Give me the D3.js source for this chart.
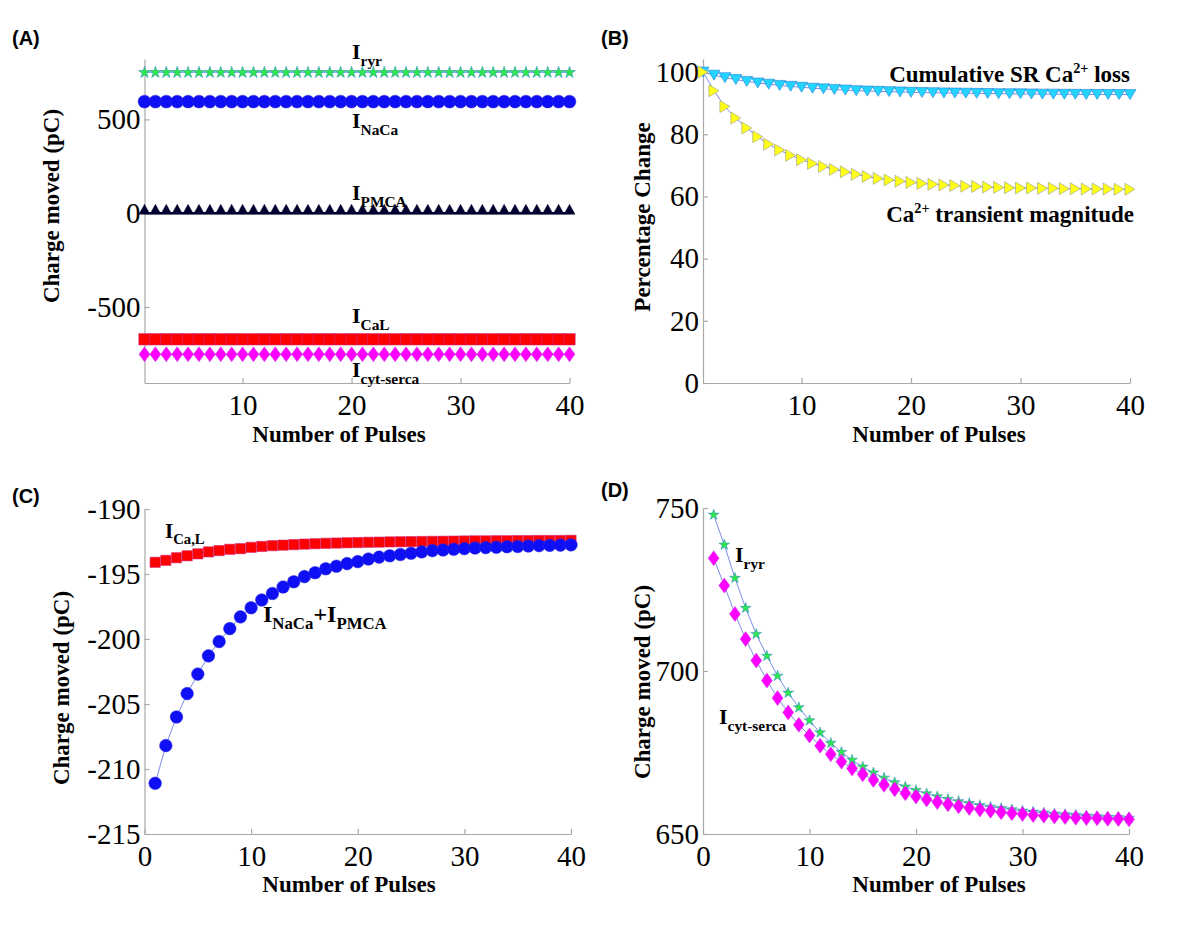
<!DOCTYPE html>
<html><head><meta charset="utf-8">
<script src="https://cdn.jsdelivr.net/npm/d3@7"></script>
<style>body{margin:0;background:#fff}svg{display:block}</style>
</head><body>
<svg id="chart" width="1200" height="927"></svg>
<script>
// ---------------- DATA ----------------
const pulses = [1,2,3,4,5,6,7,8,9,10,11,12,13,14,15,16,17,18,19,20,21,22,23,24,25,26,27,28,29,30,31,32,33,34,35,36,37,38,39,40];

// Panel A (charge moved per pulse, pC)
const A_ryr   = [750,750,750,750,750,750,750,750,750,750,750,750,750,750,750,750,750,750,750,750,750,750,750,750,750,750,750,750,750,750,750,750,750,750,750,750,750,750,750,750];
const A_naca  = [595,595,595,595,595,595,595,595,595,595,595,595,595,595,595,595,595,595,595,595,595,595,595,595,595,595,595,595,595,595,595,595,595,595,595,595,595,595,595,595];
const A_pmca  = [0,0,0,0,0,0,0,0,0,0,0,0,0,0,0,0,0,0,0,0,0,0,0,0,0,0,0,0,0,0,0,0,0,0,0,0,0,0,0,0];
const A_cal   = [-672,-672,-672,-672,-672,-672,-672,-672,-672,-672,-672,-672,-672,-672,-672,-672,-672,-672,-672,-672,-672,-672,-672,-672,-672,-672,-672,-672,-672,-672,-672,-672,-672,-672,-672,-672,-672,-672,-672,-672];
const A_serca = [-752,-752,-752,-752,-752,-752,-752,-752,-752,-752,-752,-752,-752,-752,-752,-752,-752,-752,-752,-752,-752,-752,-752,-752,-752,-752,-752,-752,-752,-752,-752,-752,-752,-752,-752,-752,-752,-752,-752,-752];

// Panel B (percentage change)
const B_srLoss    = [100,99.0,98.2,97.6,97.0,96.5,96.1,95.7,95.4,95.1,94.8,94.6,94.4,94.2,94.0,93.9,93.8,93.7,93.6,93.5,93.4,93.35,93.3,93.25,93.2,93.15,93.1,93.05,93.0,93.0,92.95,92.9,92.9,92.85,92.85,92.8,92.8,92.8,92.75,92.75];
const B_transient = [100,94.0,88.9,85.2,82.0,79.2,76.8,74.9,73.2,71.8,70.6,69.6,68.7,67.9,67.1,66.4,65.8,65.3,64.9,64.5,64.2,63.9,63.7,63.5,63.3,63.2,63.0,62.9,62.8,62.7,62.7,62.6,62.6,62.5,62.5,62.4,62.4,62.4,62.3,62.3];

// Panel C (pC)
const C_cal      = [-194.1,-193.95,-193.75,-193.6,-193.45,-193.3,-193.2,-193.1,-193.05,-192.95,-192.88,-192.82,-192.78,-192.74,-192.7,-192.67,-192.64,-192.62,-192.6,-192.58,-192.56,-192.55,-192.53,-192.52,-192.51,-192.5,-192.49,-192.48,-192.47,-192.46,-192.45,-192.45,-192.44,-192.44,-192.43,-192.43,-192.42,-192.42,-192.42,-192.41];
const C_nacaPmca = [-211.1,-208.2,-206.0,-204.2,-202.7,-201.3,-200.2,-199.2,-198.3,-197.6,-197.0,-196.5,-196.0,-195.6,-195.2,-194.9,-194.6,-194.4,-194.2,-194.05,-193.85,-193.7,-193.6,-193.5,-193.4,-193.3,-193.2,-193.15,-193.1,-193.05,-193.0,-192.97,-192.94,-192.9,-192.88,-192.85,-192.82,-192.8,-192.78,-192.76];

// Panel D (pC)
const D_ryr   = [747.9,738.7,728.5,719.3,711.3,704.6,698.5,693.3,688.8,684.8,681.1,677.9,675.1,672.7,670.6,668.8,667.2,665.8,664.5,663.4,662.4,661.5,660.7,660.0,659.4,658.8,658.3,657.9,657.5,657.1,656.8,656.5,656.2,656.0,655.8,655.6,655.4,655.2,655.1,654.9];
const D_serca = [734.6,726.2,717.5,709.8,703.2,697.1,691.7,687.3,683.5,680.2,677.1,674.5,672.2,670.1,668.3,666.6,665.1,663.7,662.5,661.5,660.6,659.8,659.1,658.5,658.0,657.5,657.1,656.7,656.4,656.1,655.8,655.6,655.4,655.2,655.0,654.9,654.8,654.7,654.6,654.5];

// Tick values
const xTicksAB = [10,20,30,40];
const xTicksCD = [0,10,20,30,40];
const yTicksA = [-500,0,500];
const yTicksB = [0,20,40,60,80,100];
const yTicksC = [-215,-210,-205,-200,-195,-190];
const yTicksD = [650,700,750];

// ---------------- DRAWING ----------------
const svg = d3.select('#chart');
const SERIF = "'Liberation Serif','Times New Roman',serif";
const SANS = "'Liberation Sans',Arial,sans-serif";
const AXIS_COLOR = '#a9a9a9';
const LINE_COLOR = '#5b6fe0';

function makePanel(cfg) {
  const g = svg.append('g');
  const x = d3.scaleLinear().domain(cfg.xDomain).range(cfg.xRange);
  const y = d3.scaleLinear().domain(cfg.yDomain).range(cfg.yRange);
  const fmt = d => String(d);
  const ax = g.append('g').attr('transform', `translate(0,${cfg.yRange[0]})`)
    .call(d3.axisBottom(x).tickValues(cfg.xTicks).tickSizeInner(-5).tickSizeOuter(0).tickPadding(11).tickFormat(fmt));
  const ay = g.append('g').attr('transform', `translate(${cfg.xRange[0]},0)`)
    .call(d3.axisLeft(y).tickValues(cfg.yTicks).tickSizeInner(-5).tickSizeOuter(0).tickPadding(4).tickFormat(fmt));
  [ax, ay].forEach(a => {
    a.attr('font-family', SERIF);
    a.select('.domain').attr('stroke', AXIS_COLOR).attr('stroke-width', 1.2);
    a.selectAll('.tick line').attr('stroke', AXIS_COLOR).attr('stroke-width', 1.2);
    a.selectAll('.tick text').attr('fill', '#000').attr('font-family', SERIF).attr('font-size', 29);
  });
  // axis titles
  g.append('text').attr('x', cfg.xLabelPos[0]).attr('y', cfg.xLabelPos[1])
    .attr('text-anchor', 'middle').attr('font-family', SERIF).attr('font-weight', 'bold')
    .attr('font-size', 23).text('Number of Pulses');
  g.append('text').attr('transform', `translate(${cfg.yLabelPos[0]},${cfg.yLabelPos[1]}) rotate(-90)`)
    .attr('text-anchor', 'middle').attr('dominant-baseline', 'central').attr('font-family', SERIF)
    .attr('font-weight', 'bold').attr('font-size', 23).text(cfg.yLabel);
  // panel letter
  g.append('text').attr('x', cfg.letterPos[0]).attr('y', cfg.letterPos[1])
    .attr('font-family', SANS).attr('font-weight', 'bold').attr('font-size', 20).text(cfg.letter);
  return {g, x, y};
}

const shapes = {
  circle: s => d3.symbol(d3.symbolCircle, s.area)(),
  square: s => d3.symbol(d3.symbolSquare, s.area)(),
  star: s => d3.symbol(d3.symbolStar, s.area)(),
  diamond: s => `M0,${-s.h/2}L${s.w/2},0L0,${s.h/2}L${-s.w/2},0Z`,
  triUpBase: s => `M0,${-s.h + 1}L${s.w/2},1L${-s.w/2},1Z`,
  triDown: s => `M0,${s.h/2}L${s.w/2},${-s.h/2}L${-s.w/2},${-s.h/2}Z`,
  triRight: s => `M${s.w/2},0L${-s.w/2},${-s.h/2}L${-s.w/2},${s.h/2}Z`
};

function series(p, xs, ys, m) {
  const pts = xs.map((v, i) => [v, ys[i]]);
  const line = d3.line().x(d => p.x(d[0])).y(d => p.y(d[1]));
  p.g.append('path').attr('d', line(pts)).attr('fill', 'none')
    .attr('stroke', m.lineColor || LINE_COLOR).attr('stroke-width', m.lineWidth || 0.8);
  const path = shapes[m.shape](m);
  p.g.append('g').selectAll('path').data(pts).join('path')
    .attr('d', path)
    .attr('transform', d => `translate(${p.x(d[0])},${p.y(d[1])})`)
    .attr('fill', m.fill).attr('stroke', m.stroke).attr('stroke-width', m.sw || 0.6);
}

function richText(g, x, y, parts, size, opts) {
  opts = opts || {};
  const t = g.append('text').attr('x', x).attr('y', y)
    .attr('font-family', SERIF).attr('font-weight', 'bold').attr('font-size', size)
    .attr('text-anchor', opts.anchor || 'start');
  let shift = 0;
  parts.forEach(p => {
    const target = p.sub ? size * 0.3 : (p.sup ? -size * 0.38 : 0);
    t.append('tspan').attr('dy', target - shift)
      .attr('font-size', p.sub ? size * 0.7 : (p.sup ? size * 0.62 : size)).text(p.t);
    shift = target;
  });
  return t;
}

const starStyle = {shape: 'star', fill: '#2ee84a', stroke: '#2b7fd0', sw: 0.5};
const circStyle = {shape: 'circle', fill: '#0f0ff5', stroke: '#2a2ae0', sw: 0.5};
const sqStyle = {shape: 'square', fill: '#ff0000', stroke: '#d02a7a', sw: 0.6};
const diaStyle = {shape: 'diamond', fill: '#ff00ff', stroke: '#c444e0', sw: 0.5};

// ---- Panel A ----
const pA = makePanel({xDomain: [1, 40], xRange: [144.5, 569.5], yDomain: [-905, 822], yRange: [383, 59],
  xTicks: xTicksAB, yTicks: yTicksA, xLabelPos: [339, 442], yLabelPos: [51, 206], yLabel: 'Charge moved (pC)',
  letter: '(A)', letterPos: [12, 45]});
series(pA, pulses, A_ryr, Object.assign({}, starStyle, {area: 44, lineColor: '#6aa0e8'}));
series(pA, pulses, A_naca, Object.assign({}, circStyle, {area: 130}));
series(pA, pulses, A_pmca, {shape: 'triUpBase', w: 11, h: 10, fill: '#00002e', stroke: '#00002e', sw: 0.4, lineColor: '#000033', lineWidth: 2.2});
series(pA, pulses, A_cal, Object.assign({}, sqStyle, {area: 130}));
series(pA, pulses, A_serca, Object.assign({}, diaStyle, {w: 11, h: 15}));
richText(pA.g, 352, 59, [{t: 'I'}, {t: 'ryr', sub: true}], 22);
richText(pA.g, 352, 128, [{t: 'I'}, {t: 'NaCa', sub: true}], 22);
richText(pA.g, 352, 200, [{t: 'I'}, {t: 'PMCA', sub: true}], 22);
richText(pA.g, 352, 323, [{t: 'I'}, {t: 'CaL', sub: true}], 22);
richText(pA.g, 352, 377, [{t: 'I'}, {t: 'cyt-serca', sub: true}], 22);

// ---- Panel B ----
const pB = makePanel({xDomain: [1, 40], xRange: [703, 1130], yDomain: [0, 104.2], yRange: [383, 59],
  xTicks: xTicksAB, yTicks: yTicksB, xLabelPos: [939, 442], yLabelPos: [642, 217], yLabel: 'Percentage Change',
  letter: '(B)', letterPos: [601, 45]});
series(pB, pulses, B_srLoss, {shape: 'triDown', w: 12, h: 10, fill: '#22d4ff', stroke: '#2a7fd4', sw: 0.6});
series(pB, pulses, B_transient, {shape: 'triRight', w: 10, h: 12, fill: '#ffff1a', stroke: '#9a9a80', sw: 0.6});
richText(pB.g, 1130, 82, [{t: 'Cumulative SR Ca'}, {t: '2+', sup: true}, {t: ' loss'}], 23, {anchor: 'end'});
richText(pB.g, 1134, 222, [{t: 'Ca'}, {t: '2+', sup: true}, {t: ' transient magnitude'}], 23, {anchor: 'end'});

// ---- Panel C ----
const pC = makePanel({xDomain: [0, 40], xRange: [144.5, 571], yDomain: [-215, -190], yRange: [834, 509],
  xTicks: xTicksCD, yTicks: yTicksC, xLabelPos: [349, 892], yLabelPos: [61, 688], yLabel: 'Charge moved (pC)',
  letter: '(C)', letterPos: [12, 503]});
series(pC, pulses, C_cal, Object.assign({}, sqStyle, {area: 105}));
series(pC, pulses, C_nacaPmca, Object.assign({}, circStyle, {area: 125}));
richText(pC.g, 165, 538, [{t: 'I'}, {t: 'Ca,L', sub: true}], 21);
richText(pC.g, 263, 622, [{t: 'I'}, {t: 'NaCa', sub: true}, {t: '+I'}, {t: 'PMCA', sub: true}], 24);

// ---- Panel D ----
const pD = makePanel({xDomain: [0, 40], xRange: [703, 1129], yDomain: [650, 750], yRange: [834, 508],
  xTicks: xTicksCD, yTicks: yTicksD, xLabelPos: [939, 892], yLabelPos: [642, 682], yLabel: 'Charge moved (pC)',
  letter: '(D)', letterPos: [601, 497]});
series(pD, pulses, D_ryr, Object.assign({}, starStyle, {area: 36}));
series(pD, pulses, D_serca, Object.assign({}, diaStyle, {w: 11, h: 15}));
richText(pD.g, 735, 562, [{t: 'I'}, {t: 'ryr', sub: true}], 22);
richText(pD.g, 719, 724, [{t: 'I'}, {t: 'cyt-serca', sub: true}], 22);
</script>
</body></html>
